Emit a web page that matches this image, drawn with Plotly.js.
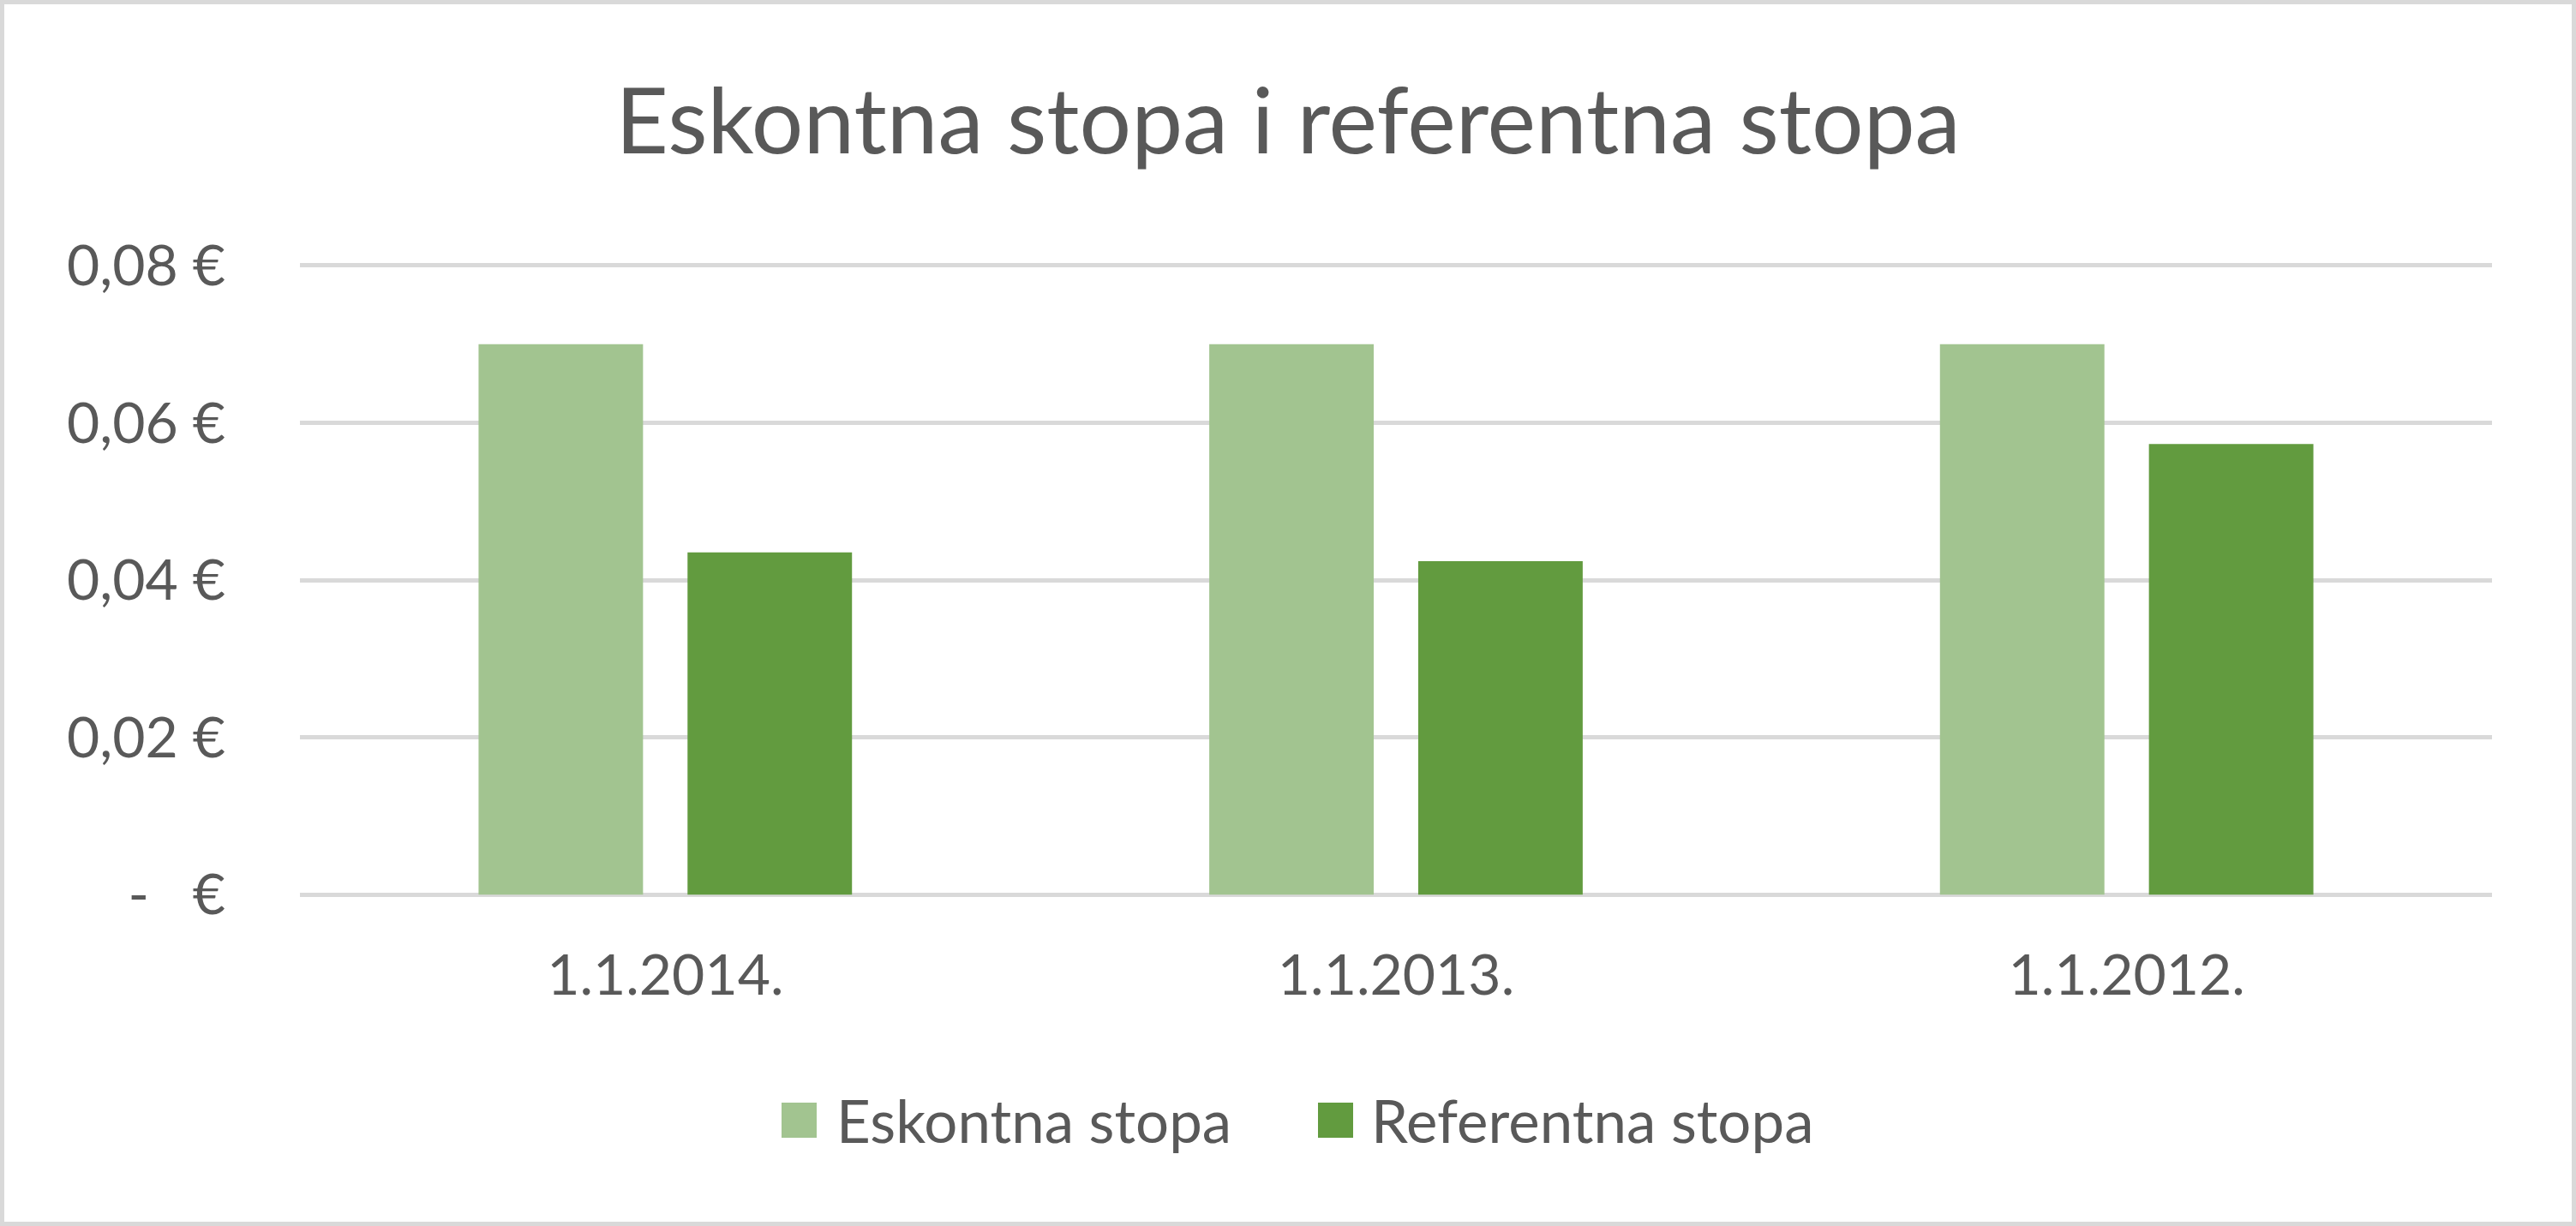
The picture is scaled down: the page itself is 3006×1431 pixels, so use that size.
<!DOCTYPE html>
<html>
<head>
<meta charset="utf-8">
<script src="https://cdn.plot.ly/plotly-3.0.1.min.js"></script>
<style>
  html, body { margin: 0; padding: 0; background: #ffffff; }
  #wrap { width: 3006px; height: 1431px; box-sizing: border-box; border: 5px solid #d9d9d9; position: relative; overflow: hidden; }
  #chart { position: absolute; left: -5px; top: -5px; width: 3006px; height: 1431px; }
</style>
</head>
<body>
<div id="wrap"><div id="chart"></div></div>
<script>
// ---- data ----
const categories = ["1.1.2014.", "1.1.2013.", "1.1.2012."];
const seriesNames = ["Eskontna stopa", "Referentna stopa"];
const eskontnaValues = [0.07, 0.07, 0.07];
const referentnaValues = [0.0435, 0.0424, 0.0573];
const yTickValues = [0, 0.02, 0.04, 0.06, 0.08];
const yTickLabels = ["\u00a0\u00a0\u00a0\u00a0\u00a0\u00a0\u00a0-\u00a0\u00a0\u00a0€", "0,02 €", "0,04 €", "0,06 €", "0,08 €"];
const chartTitle = "Eskontna stopa i referentna stopa";
const seriesColors = ["#a2c490", "#629b3f"];

// ---- layout constants ----
const W = 3006, H = 1431;
const M = { l: 350, r: 98, t: 308, b: 385 };
const plotW = W - M.l - M.r, plotH = H - M.t - M.b;
const px2x = (px) => (px - M.l) / plotW;
const px2y = (py) => (H - M.b - py) / plotH;
const FONT = "Lato, 'Open Sans', sans-serif";
const TXT = "#595959";

const traces = [
  { type: "bar", name: seriesNames[0], x: categories, y: eskontnaValues, marker: { color: seriesColors[0] }, showlegend: false, hoverinfo: "x+y" },
  { type: "bar", name: seriesNames[1], x: categories, y: referentnaValues, marker: { color: seriesColors[1] }, showlegend: false, hoverinfo: "x+y" }
];

// custom legend (large square swatches like the original)
const legendSquares = [[912, 953], [1538, 1579]];
const legendTextX = [974, 1598];
const shapes = [];
const annotations = [];
seriesNames.forEach((n, i) => {
  shapes.push({
    type: "rect", xref: "paper", yref: "paper",
    x0: px2x(legendSquares[i][0]), x1: px2x(legendSquares[i][1]),
    y0: px2y(1328), y1: px2y(1287),
    fillcolor: seriesColors[i], line: { width: 0 }
  });
  annotations.push({
    xref: "paper", yref: "paper", x: px2x(legendTextX[i]), y: px2y(1307),
    xanchor: "left", yanchor: "middle", showarrow: false, text: n,
    font: { family: FONT, size: 69, color: TXT }
  });
});

const layout = {
  width: W, height: H,
  margin: M,
  paper_bgcolor: "rgba(0,0,0,0)",
  plot_bgcolor: "#ffffff",
  title: { text: chartTitle, x: 0.5, xref: "container", xanchor: "center", y: 1 - 142 / H, yref: "container", yanchor: "middle",
           font: { family: FONT, size: 107, color: TXT } },
  barmode: "group",
  bargap: 0.428,
  bargroupgap: 0.213,
  xaxis: {
    type: "category",
    showgrid: false, zeroline: false, showline: false, ticks: "",
    tickfont: { family: FONT, size: 66, color: TXT },
    ticklabelstandoff: 48
  },
  yaxis: {
    range: [-0.0002, 0.0802],
    tickvals: yTickValues, ticktext: yTickLabels,
    showgrid: true, gridcolor: "#d9d9d9", gridwidth: 5,
    zeroline: false, showline: false, ticks: "",
    tickfont: { family: FONT, size: 66, color: TXT },
    ticklabelstandoff: 86
  },
  shapes: shapes,
  annotations: annotations,
  showlegend: false
};

Plotly.newPlot("chart", traces, layout, { displayModeBar: false, staticPlot: true });
</script>
</body>
</html>
